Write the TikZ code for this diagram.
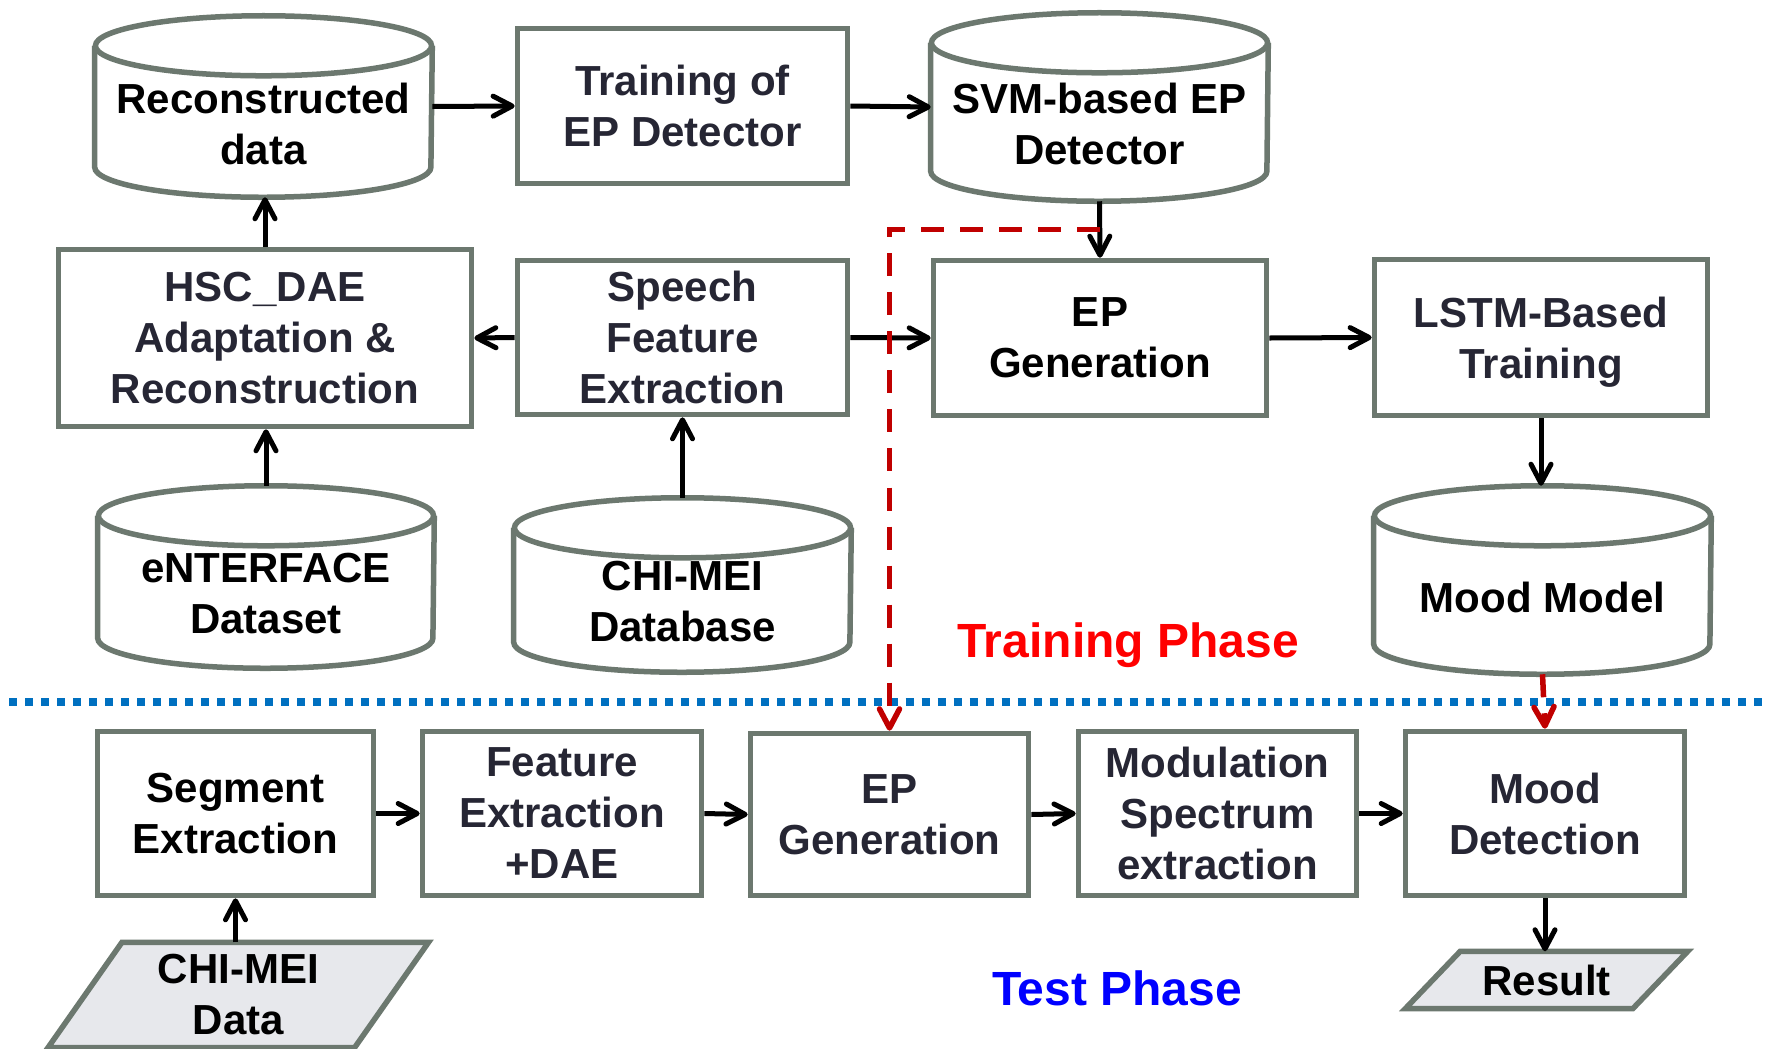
\documentclass[tikz,border=0pt]{standalone}
\usepackage{fontspec}
\setmainfont{Liberation Sans}
\usetikzlibrary{arrows.meta,calc}

\definecolor{edge}{RGB}{108,120,111}
\definecolor{ink}{RGB}{38,38,52}
\definecolor{dred}{RGB}{192,0,0}
\definecolor{pblue}{RGB}{0,112,192}
\definecolor{pfill}{RGB}{231,232,236}

\tikzset{
  lbl/.style={font=\bfseries\fontsize{11.95}{14.5}\selectfont, align=center},
  box/.style={lbl, draw=edge, line width=0.055cm, inner sep=0pt, text=ink},
  dbarea/.style={inner sep=0pt},
  dbline/.style={draw=edge, line width=0.055cm},
  io/.style={inner sep=0pt},
  flow/.style={line width=0.05cm, -{Straight Barb[length=0.19cm,width=0.2cm,round]}},
  link/.style={dred, line width=0.055cm, dash pattern=on 0.23cm off 0.16cm,
    -{Straight Barb[length=0.19cm,width=0.2cm,round]}},
  phase/.style={font=\bfseries\fontsize{13.65}{16}\selectfont, anchor=base},
  divider/.style={pblue, line width=0.08cm, dash pattern=on 0.08cm off 0.08cm},
}

% database cylinder: name, position, width, height, text
\newcommand\dbcyl[5]{%
  \node[dbarea, minimum width=#3, minimum height=#4] (#1) at #2 {};
  \draw[dbline] ([yshift=-0.3cm]#1.north west) -- ([yshift=0.3cm]#1.south west)
    arc[start angle=180, end angle=360, x radius=0.5*#3, y radius=0.3cm]
    -- ([yshift=-0.3cm]#1.north east);
  \draw[dbline] ([yshift=-0.3cm]#1.north) ellipse[x radius=0.5*#3, y radius=0.3cm];
  \node[lbl, text=black] (#1-t) at ([yshift=-0.17cm]#1.center) {#5};
}

% input/output parallelogram: name, position, width, height, half slant, text
\newcommand\iobox[6]{%
  \node[io, minimum width=#3, minimum height=#4] (#1) at #2 {};
  \draw[dbline, fill=pfill] ([xshift=#5]#1.north west) -- ([xshift=#5]#1.north east)
    -- ([xshift=-#5]#1.south east) -- ([xshift=-#5]#1.south west) -- cycle;
  \node[lbl, text=black] (#1-t) at (#1.center) {#6};
}

\begin{document}
\begin{tikzpicture}[x=0.01cm, y=-0.01cm]
\useasboundingbox[fill=white] (0,0) rectangle (1766,1048);

% training phase
\dbcyl{recon}{(263.5,106.5)}{3.36cm}{1.80cm}{Reconstructed\\data}
\node[box, minimum width=3.30cm, minimum height=1.55cm] (train) at (682.5,106) {Training of\\EP Detector};
\dbcyl{svm}{(1099.5,107)}{3.36cm}{1.87cm}{SVM-based EP\\Detector}

\node[box, minimum width=4.13cm, minimum height=1.77cm] (hsc) at (265,338) {HSC\_DAE\\Adaptation \&\\Reconstruction};
\node[box, minimum width=3.30cm, minimum height=1.54cm] (speech) at (682.5,337.5) {Speech\\Feature\\Extraction};
\node[box, text=black, minimum width=3.33cm, minimum height=1.55cm] (epgen) at (1100,338) {EP\\Generation};
\node[box, minimum width=3.33cm, minimum height=1.56cm] (lstm) at (1541,337.5) {LSTM-Based\\\smash{Training}};

\dbcyl{enter}{(266,577)}{3.35cm}{1.81cm}{eNTERFACE\\Dataset}
\dbcyl{chimei}{(682.5,585)}{3.36cm}{1.73cm}{CHI-MEI\\Database}
\dbcyl{mood}{(1542.5,580)}{3.36cm}{1.87cm}{Mood Model}

\node[phase, text=red] (trainph) at (1128,657) {Training Phase};

% phase divider
\draw[divider] (9,702) -- (1766,702);

% test phase
\node[box, text=black, minimum width=2.76cm, minimum height=1.64cm] (seg) at (235.5,813.5) {Segment\\Extraction};
\node[box, minimum width=2.79cm, minimum height=1.64cm] (feat) at (562,813.5) {Feature\\Extraction\\+DAE};
\node[box, minimum width=2.78cm, minimum height=1.62cm] (epgen2) at (889.5,814.5) {EP\\Generation};
\node[box, minimum width=2.78cm, minimum height=1.64cm] (modul) at (1217.5,813.5) {Modulation\\Spectrum\\extraction};
\node[box, minimum width=2.79cm, minimum height=1.64cm] (mooddet) at (1545,813.5) {Mood\\Detection};

\iobox{chidata}{(238.25,995)}{3.05cm}{1.04cm}{0.37cm}{CHI-MEI\\Data}
\iobox{result}{(1546.5,980)}{2.26cm}{0.56cm}{0.275cm}{Result}

\node[phase, text=blue] (testph) at (1117,1005) {Test Phase};

% training flow
\draw[flow] (recon.east) -- (train.west);
\draw[flow] (train.east) -- (svm.west);
\draw[flow] (svm.south) -- (epgen.north);
\draw[flow] (hsc.north) -- (hsc.north |- recon.south);
\draw[flow] (speech.west) -- (hsc.east);
\draw[flow] (speech.east) -- (epgen.west);
\draw[flow] (epgen.east) -- (lstm.west);
\draw[flow] (lstm.south) -- (lstm.south |- mood.north);
\draw[flow] (enter.north) -- (enter.north |- hsc.south);
\draw[flow] (chimei.north) -- (speech.south);

% test flow
\draw[flow] (seg.east) -- (feat.west);
\draw[flow] (feat.east) -- (epgen2.west);
\draw[flow] (epgen2.east) -- (modul.west);
\draw[flow] (modul.east) -- (mooddet.west);
\draw[flow] (chidata.north -| seg.south) -- (seg.south);
\draw[flow] (mooddet.south) -- (mooddet.south |- result.north);

% trained models handed to the test phase
\coordinate (tap) at ($(svm.south)!0.5!(epgen.north)$);
\draw[link] (tap) -| (epgen2.north);
\draw[link] (mood.south) -- (mooddet.north);
\end{tikzpicture}
\end{document}
